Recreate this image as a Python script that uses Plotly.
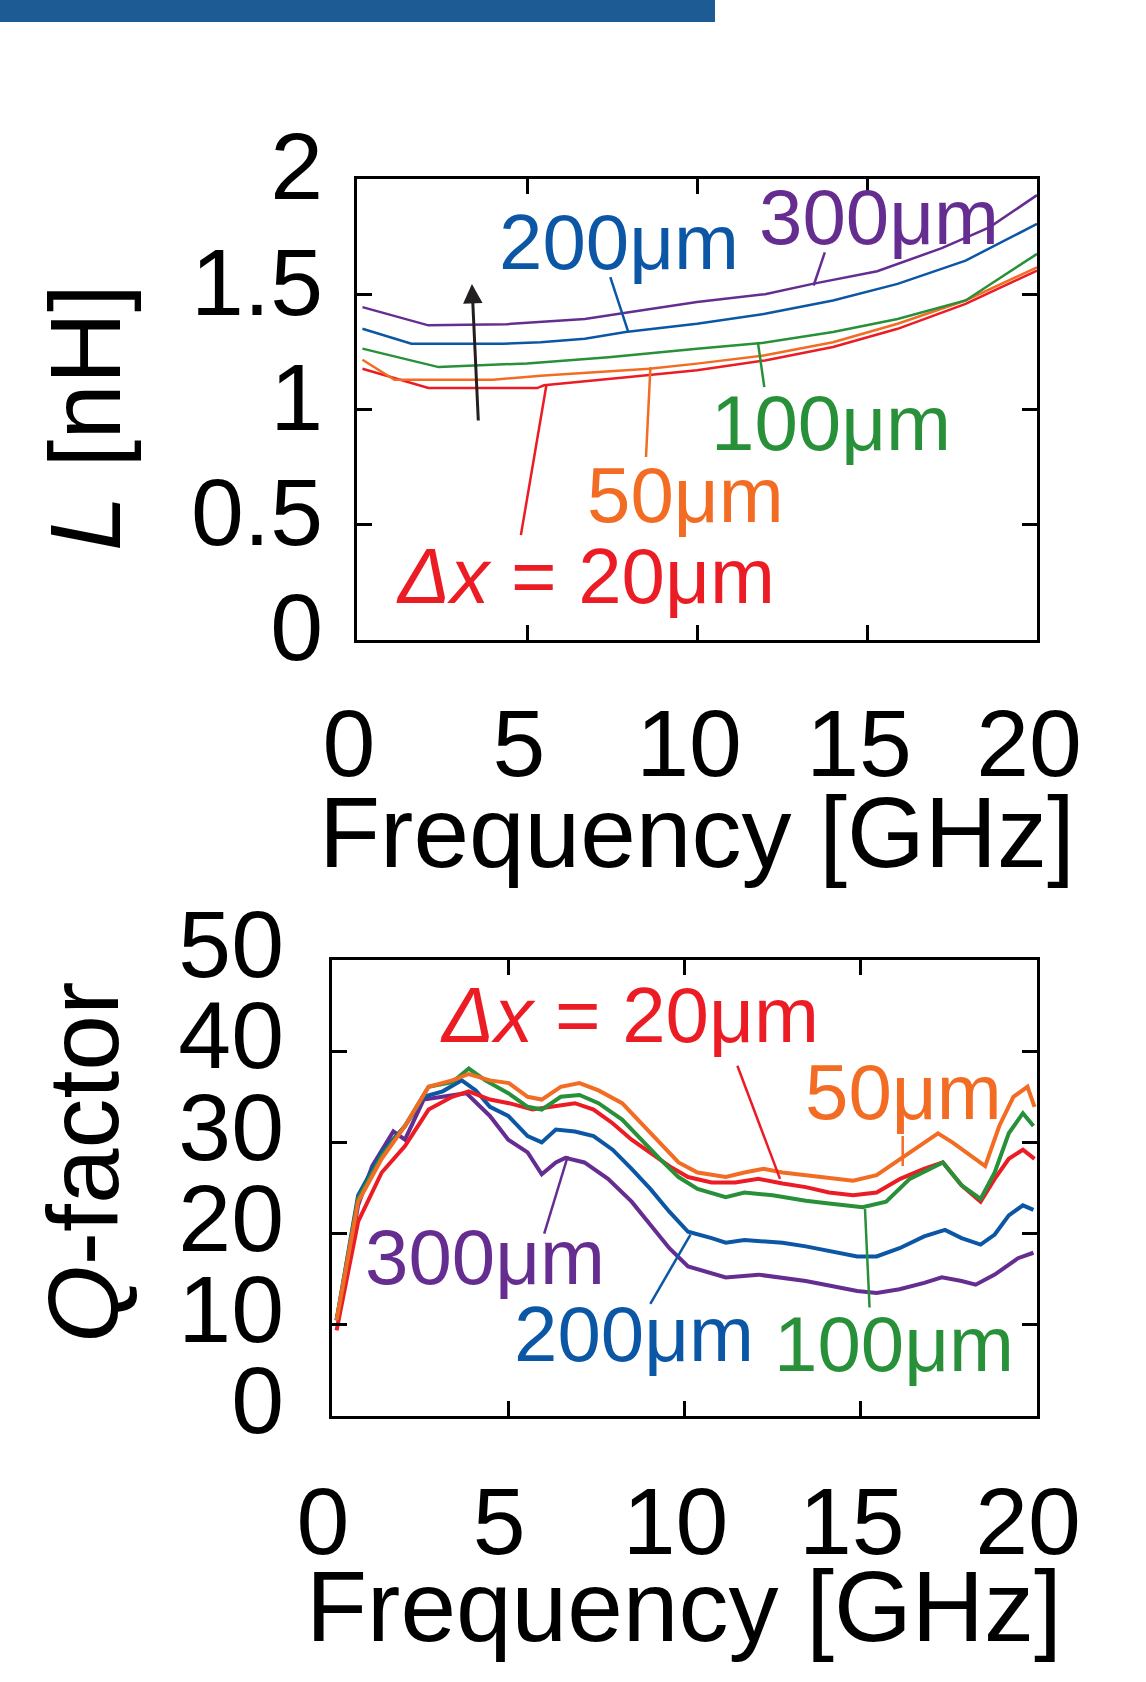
import plotly.graph_objects as go

# ---------------- inductance vs frequency ----------------
L_300_f = [0.16, 2.1, 4.4, 6.7, 8.0, 10.0, 12.0, 13.4, 15.3, 17.2, 18.6, 20.0]
L_300 = [1.444, 1.365, 1.37, 1.393, 1.422, 1.466, 1.50, 1.545, 1.60, 1.70, 1.79, 1.93]
L_200_f = [0.16, 1.6, 4.3, 5.4, 6.7, 7.9, 10.0, 12.0, 14.0, 15.9, 17.9, 20.0]
L_200 = [1.35, 1.285, 1.285, 1.292, 1.307, 1.336, 1.372, 1.415, 1.473, 1.545, 1.646, 1.805]
L_100_f = [0.16, 2.4, 5.0, 7.4, 10.0, 11.9, 14.0, 15.9, 17.9, 20.0]
L_100 = [1.264, 1.184, 1.20, 1.227, 1.264, 1.288, 1.336, 1.393, 1.473, 1.675]
L_50_f = [0.16, 1.1, 4.0, 5.5, 8.6, 10.0, 12.0, 14.0, 15.9, 17.9, 20.0]
L_50 = [1.216, 1.129, 1.129, 1.148, 1.177, 1.199, 1.235, 1.292, 1.372, 1.473, 1.617]
L_20_f = [0.16, 2.1, 5.3, 5.5, 8.0, 10.0, 12.0, 14.0, 15.9, 17.9, 20.0]
L_20 = [1.177, 1.093, 1.093, 1.105, 1.141, 1.170, 1.213, 1.271, 1.35, 1.458, 1.603]

# ---------------- Q-factor vs frequency ----------------
Q_300_f = [0.13, 0.4, 0.74, 1.14, 1.74, 2.07, 2.6, 3.14, 3.81, 4.48, 5.0, 5.55, 5.95, 6.35, 6.62,
           7.16, 7.83, 8.5, 9.03, 9.57, 10.1, 10.77, 11.17, 12.1, 13.44, 14.1, 14.9, 15.45, 16.1,
           16.8, 17.3, 17.86, 18.26, 18.8, 19.46, 19.9]
Q_300 = [10.5, 15.5, 23.1, 27.4, 31.2, 30.3, 34.7, 35.0, 35.4, 32.9, 30.3, 28.9, 26.5, 27.8, 28.3,
         27.8, 26.0, 23.5, 20.9, 18.4, 16.4, 15.7, 15.2, 15.5, 14.8, 14.3, 13.7, 13.5, 13.9,
         14.6, 15.2, 14.8, 14.4, 15.5, 17.3, 17.9]
Q_200_f = [0.13, 0.74, 1.41, 2.07, 2.6, 3.14, 3.68, 4.08, 4.48, 5.0, 5.55, 5.95, 6.35, 6.89, 7.42,
           7.96, 8.5, 9.03, 9.57, 10.1, 10.77, 11.17, 11.7, 12.78, 13.44, 14.1, 14.9, 15.45, 16.1,
           16.8, 17.39, 17.86, 18.4, 18.8, 19.2, 19.6, 19.9]
Q_200 = [10.5, 24.2, 28.9, 31.8, 35.0, 35.6, 36.8, 35.7, 33.9, 32.9, 30.7, 30.0, 31.4, 31.2, 30.7,
         29.2, 27.1, 24.9, 22.4, 20.2, 19.5, 19.0, 19.3, 19.0, 18.6, 18.1, 17.5, 17.5, 18.4,
         19.7, 20.4, 19.5, 18.8, 19.9, 22.0, 23.1, 22.6]
Q_100_f = [0.13, 0.74, 1.41, 2.07, 2.74, 3.41, 3.88, 4.35, 5.0, 5.55, 5.95, 6.49, 7.02, 7.56, 8.23,
           8.76, 9.3, 9.83, 10.37, 11.17, 11.7, 12.5, 13.44, 14.1, 15.05, 15.72, 16.39, 17.33,
           17.86, 18.4, 18.8, 19.2, 19.6, 19.9]
Q_100 = [10.5, 23.8, 28.5, 31.8, 36.1, 36.6, 38.1, 36.8, 35.4, 33.9, 33.6, 35.0, 35.2, 34.3, 32.5,
         30.3, 28.2, 26.2, 24.9, 24.0, 24.5, 24.2, 23.6, 23.3, 22.9, 23.5, 26.0, 27.8,
         25.3, 23.8, 26.7, 31.0, 33.2, 31.8]
Q_50_f = [0.13, 0.74, 1.41, 2.07, 2.74, 3.41, 3.88, 4.48, 5.02, 5.55, 5.95, 6.49, 7.02, 7.56, 8.23,
          8.76, 9.3, 9.83, 10.37, 11.17, 11.7, 12.24, 12.78, 13.44, 14.1, 14.78, 15.45, 16.12,
          16.79, 17.19, 17.6, 18.13, 18.53, 18.93, 19.33, 19.73, 19.93]
Q_50 = [10.5, 23.5, 28.2, 31.8, 36.1, 36.8, 37.5, 36.8, 36.5, 35.0, 34.7, 36.1, 36.5, 35.7, 34.3,
        32.1, 30.0, 27.8, 26.7, 26.2, 26.7, 27.1, 26.7, 26.4, 26.0, 25.8, 26.4, 28.2,
        30.0, 31.0, 30.0, 28.5, 27.4, 31.8, 35.0, 36.1, 33.9]
Q_20_f = [0.13, 0.74, 1.41, 2.07, 2.74, 3.41, 3.88, 4.48, 5.02, 5.69, 6.22, 6.89, 7.42, 7.96, 8.5,
          9.03, 9.57, 10.1, 10.77, 11.44, 12.1, 12.78, 13.44, 14.1, 14.78, 15.45, 16.12, 16.79,
          17.33, 17.86, 18.4, 18.8, 19.2, 19.6, 19.93]
Q_20 = [9.4, 21.3, 26.7, 29.6, 33.6, 35.0, 35.6, 34.7, 34.3, 33.6, 33.9, 34.3, 33.6, 32.1, 30.3,
        28.9, 27.4, 26.2, 25.6, 25.6, 26.0, 25.5, 25.1, 24.5, 24.2, 24.5, 26.0, 27.1,
        27.8, 25.3, 23.5, 26.0, 28.2, 29.2, 28.2]

x_ticks = [0, 5, 10, 15, 20]
L_ticks = [0, 0.5, 1, 1.5, 2]
L_tick_text = ["0", "0.5", "1", "1.5", "2"]
Q_ticks = [0, 10, 20, 30, 40, 50]

C_300 = "#662d91"
C_200 = "#0b57a5"
C_100 = "#279038"
C_50 = "#f26c23"
C_20 = "#ec1c24"

FONT = "Liberation Sans, Arial, Helvetica, sans-serif"
W, H = 1146, 1682

fig = go.Figure()

L_series = [(L_20_f, L_20, C_20), (L_50_f, L_50, C_50), (L_100_f, L_100, C_100),
            (L_200_f, L_200, C_200), (L_300_f, L_300, C_300)]
for fx, fy, c in L_series:
    fig.add_trace(go.Scatter(x=fx, y=fy, mode="lines", line=dict(color=c, width=2.5),
                             xaxis="x", yaxis="y", showlegend=False, hoverinfo="skip"))

Q_series = [(Q_300_f, Q_300, C_300), (Q_200_f, Q_200, C_200), (Q_20_f, Q_20, C_20),
            (Q_100_f, Q_100, C_100), (Q_50_f, Q_50, C_50)]
for fx, fy, c in Q_series:
    fig.add_trace(go.Scatter(x=fx, y=fy, mode="lines", line=dict(color=c, width=4),
                             xaxis="x2", yaxis="y2", showlegend=False, hoverinfo="skip"))

tickfont = dict(family=FONT, size=95, color="black")
axis_common = dict(showline=True, linecolor="black", linewidth=3, mirror="ticks",
                   ticks="inside", ticklen=15, tickwidth=3, tickcolor="black",
                   showgrid=False, zeroline=False, tickfont=tickfont, automargin=False)

fig.update_layout(
    template="none",
    width=W, height=H,
    margin=dict(l=0, r=0, t=0, b=0, pad=0, autoexpand=False),
    paper_bgcolor="white", plot_bgcolor="white",
    xaxis=dict(domain=[357 / W, 1037 / W], range=[0, 20], tickvals=x_ticks,
               anchor="y", ticklabelstandoff=19, ticklabelshift=-8, **axis_common),
    yaxis=dict(domain=[1 - 640 / H, 1 - 179 / H], range=[0, 2], tickvals=L_ticks,
               ticktext=L_tick_text, anchor="x", ticklabelstandoff=12, ticklabelshift=-13,
               **axis_common),
    xaxis2=dict(domain=[332 / W, 1037 / W], range=[0, 20], tickvals=x_ticks,
                anchor="y2", ticklabelstandoff=21, ticklabelshift=-9, **axis_common),
    yaxis2=dict(domain=[1 - 1416 / H, 1 - 960 / H], range=[0, 50], tickvals=Q_ticks,
                anchor="x2", ticklabelstandoff=26, ticklabelshift=-16, **axis_common),
)

# header band
fig.add_shape(type="rect", xref="paper", yref="paper", x0=0, x1=715 / W,
              y0=1 - 22 / H, y1=1, fillcolor="#1d5b95", line=dict(width=0), layer="above")

titlefont = dict(family=FONT, size=100, color="black")
annots = [
    dict(text="Frequency [GHz]", x=697 / W, y=1 - 832 / H),
    dict(text="Frequency [GHz]", x=684 / W, y=1 - 1606 / H),
    dict(text="<i>L</i> [nH]", x=85 / W, y=1 - 418 / H, textangle=-90),
    dict(text="<i>Q</i>-factor", x=83 / W, y=1 - 1163 / H, textangle=-90),
]
for a in annots:
    fig.add_annotation(xref="paper", yref="paper", showarrow=False, font=titlefont,
                       xanchor="center", yanchor="middle", **a)

labfont = 78
# curve labels: (text, x, y, colour, leader x0, y0, x1, y1, axes)
labels = [
    ("200μm", 7.7, 1.726, C_200, 7.45, 1.574, 7.98, 1.336, "x", "y"),
    ("300μm", 15.36, 1.834, C_300, 13.76, 1.682, 13.43, 1.538, "x", "y"),
    ("100μm", 13.95, 0.943, C_100, 11.98, 1.097, 11.79, 1.292, "x", "y"),
    ("50μm", 9.65, 0.628, C_50, 8.5, 0.794, 8.63, 1.184, "x", "y"),
    ("<i>Δx</i> = 20μm", 6.73, 0.279, C_20, 4.82, 0.455, 5.57, 1.105, "x", "y"),
    ("<i>Δx</i> = 20μm", 8.43, 44.0, C_20, 11.5, 38.4, 12.71, 26.0, "x2", "y2"),
    ("50μm", 16.2, 35.5, C_50, 16.19, 30.7, 16.19, 27.4, "x2", "y2"),
    ("300μm", 4.35, 17.4, C_300, 6.02, 20.0, 6.69, 28.5, "x2", "y2"),
    ("200μm", 8.56, 8.95, C_200, 9.03, 12.3, 10.17, 19.9, "x2", "y2"),
    ("100μm", 15.95, 7.9, C_100, 15.25, 11.9, 15.12, 22.7, "x2", "y2"),
]
for t, lx, ly, c, x0, y0, x1, y1, xr, yr in labels:
    fig.add_annotation(text=t, x=lx, y=ly, xref=xr, yref=yr, showarrow=False,
                       font=dict(family=FONT, size=labfont, color=c),
                       xanchor="center", yanchor="middle")
    fig.add_shape(type="line", xref=xr, yref=yr, x0=x0, y0=y0, x1=x1, y1=y1,
                  line=dict(color=c, width=2.5))

# trend arrow for increasing offset
fig.add_annotation(x=3.38, y=1.545, ax=3.57, ay=0.946, xref="x", yref="y",
                   axref="x", ayref="y", showarrow=True, arrowhead=2, arrowsize=1.3,
                   arrowwidth=3, arrowcolor="#231f20", text="")

fig.write_html("out.html")
